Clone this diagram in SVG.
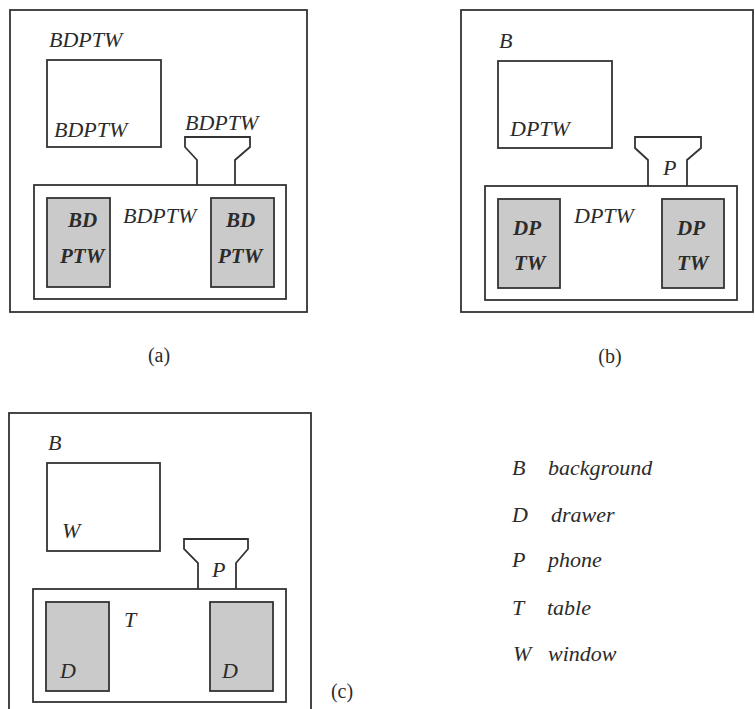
<svg xmlns="http://www.w3.org/2000/svg" width="755" height="709" viewBox="0 0 755 709">
<style>
.fr{fill:none;stroke:#333;stroke-width:1.8}
.wh{fill:#fff;stroke:#333;stroke-width:1.8}
.dr{fill:#cacaca;stroke:#333;stroke-width:1.8}
.t{font-family:"Liberation Serif","Times New Roman",serif;font-style:italic;font-size:22px;fill:#2b2b2b}
.b{font-family:"Liberation Serif","Times New Roman",serif;font-style:italic;font-weight:bold;font-size:21px;fill:#2b2b2b}
.c{font-family:"Liberation Serif","Times New Roman",serif;font-size:20px;fill:#2b2b2b}
</style>
<rect width="755" height="709" fill="#fff"/>
<g id="panel-a">
  <rect class="fr" x="10" y="10" width="297" height="302"/>
  <text class="t" x="49" y="47">BDPTW</text>
  <g id="a-window"><rect class="wh" x="47" y="60" width="114" height="87"/><text class="t" x="54" y="137">BDPTW</text></g>
  <g id="a-phone"><path class="wh" d="M197,185 V160 L185,147 V137 H250 V147 L235,160 V185"/><text class="t" x="185" y="130">BDPTW</text></g>
  <g id="a-table"><rect class="wh" x="34" y="185" width="252" height="114"/><text class="t" x="123" y="223">BDPTW</text></g>
  <g id="a-drawer-l"><rect class="dr" x="47" y="198" width="63" height="89"/><text class="b" x="68" y="227">BD</text><text class="b" x="60" y="263">PTW</text></g>
  <g id="a-drawer-r"><rect class="dr" x="211" y="198" width="63" height="89"/><text class="b" x="226" y="227">BD</text><text class="b" x="218" y="263">PTW</text></g>
  <text class="c" x="159" y="362" text-anchor="middle">(a)</text>
</g>
<g id="panel-b">
  <rect class="fr" x="461" y="10" width="292" height="302"/>
  <text class="t" x="499" y="48">B</text>
  <g id="b-window"><rect class="wh" x="498" y="61" width="114" height="87"/><text class="t" x="510" y="136">DPTW</text></g>
  <g id="b-phone"><path class="wh" d="M648,186 V160 L635,148 V137 H701 V148 L687,160 V186"/><text class="t" x="663" y="175">P</text></g>
  <g id="b-table"><rect class="wh" x="485" y="186" width="252" height="114"/><text class="t" x="574" y="223">DPTW</text></g>
  <g id="b-drawer-l"><rect class="dr" x="498" y="199" width="62" height="89"/><text class="b" x="513" y="235">DP</text><text class="b" x="514" y="270">TW</text></g>
  <g id="b-drawer-r"><rect class="dr" x="662" y="199" width="62" height="89"/><text class="b" x="677" y="235">DP</text><text class="b" x="677" y="270">TW</text></g>
  <text class="c" x="610" y="363" text-anchor="middle">(b)</text>
</g>
<g id="panel-c">
  <rect class="fr" x="9" y="413" width="302" height="310"/>
  <text class="t" x="48" y="450">B</text>
  <g id="c-window"><rect class="wh" x="47" y="463" width="113" height="88"/><text class="t" x="62" y="538">W</text></g>
  <g id="c-phone"><path class="wh" d="M198,589 V563 L184,549 V539 H248 V549 L236,563 V589"/><text class="t" x="212" y="577">P</text></g>
  <g id="c-table"><rect class="wh" x="33" y="589" width="253" height="113"/><text class="t" x="124" y="627">T</text></g>
  <g id="c-drawer-l"><rect class="dr" x="46" y="602" width="63" height="89"/><text class="t" x="60" y="678">D</text></g>
  <g id="c-drawer-r"><rect class="dr" x="210" y="602" width="63" height="89"/><text class="t" x="222" y="678">D</text></g>
  <text class="c" x="342" y="698" text-anchor="middle">(c)</text>
</g>
<g id="legend">
  <text class="t" x="512" y="475">B</text><text class="t" x="548" y="475">background</text>
  <text class="t" x="512" y="522">D</text><text class="t" x="551" y="522">drawer</text>
  <text class="t" x="512" y="567">P</text><text class="t" x="548" y="567">phone</text>
  <text class="t" x="512" y="615">T</text><text class="t" x="547" y="615">table</text>
  <text class="t" x="513" y="661">W</text><text class="t" x="548" y="661">window</text>
</g>
</svg>
